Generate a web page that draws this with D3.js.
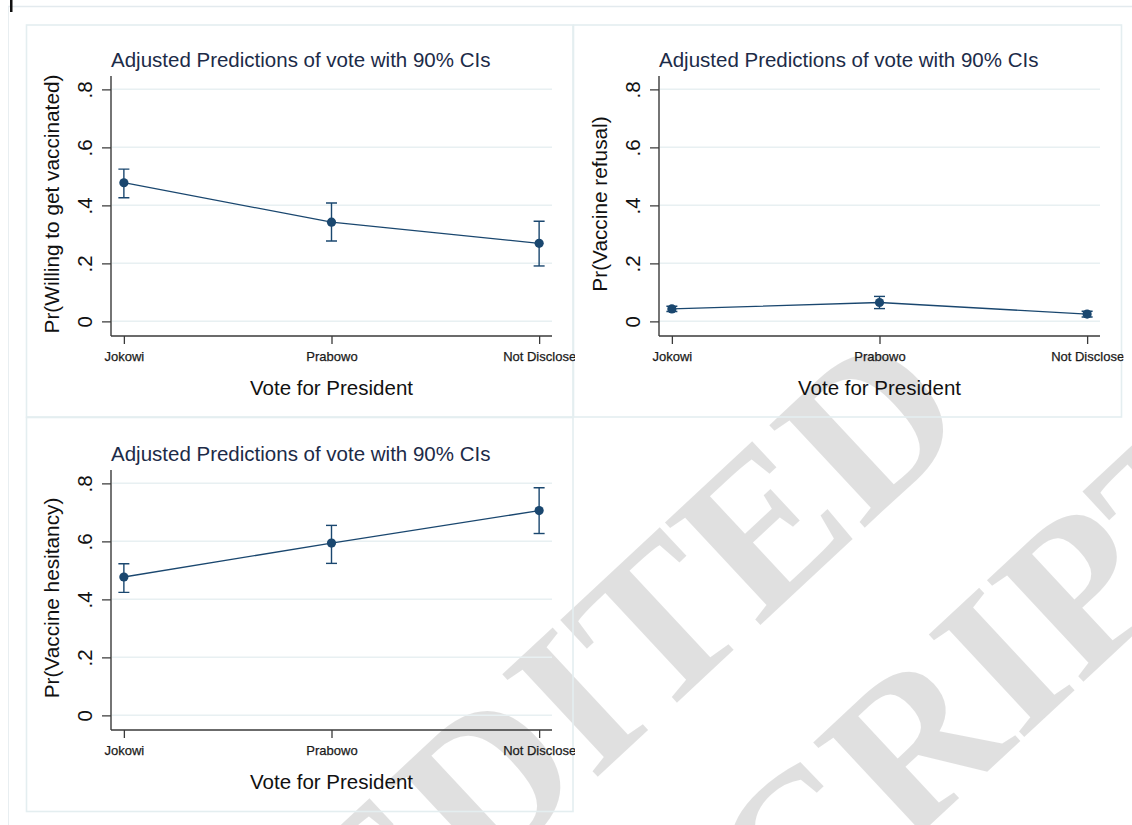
<!DOCTYPE html>
<html>
<head>
<meta charset="utf-8">
<script src="https://cdn.jsdelivr.net/npm/d3@7"></script>
<style>
  html, body { margin: 0; padding: 0; background: #fff; }
  svg { display: block; font-family: "Liberation Sans", Arial, sans-serif; }
</style>
</head>
<body>
<div id="chart"></div>
<script>
// categories on the x axis
const categories = ['Jokowi', 'Prabowo', 'Not Disclose'];

// predicted probabilities and 90% CI bounds
const willingEst = [0.478, 0.342, 0.269];
const willingLo = [0.426, 0.277, 0.191];
const willingHi = [0.525, 0.408, 0.345];

const refusalEst = [0.043, 0.065, 0.025];
const refusalLo = [0.034, 0.044, 0.015];
const refusalHi = [0.052, 0.086, 0.035];

const hesitancyEst = [0.477, 0.594, 0.706];
const hesitancyLo = [0.424, 0.524, 0.627];
const hesitancyHi = [0.523, 0.655, 0.785];

const yTicks = [0, 0.2, 0.4, 0.6, 0.8];
const yTickLabels = ['0', '.2', '.4', '.6', '.8'];

const panelTitle = 'Adjusted Predictions of vote with 90% CIs';
const xTitle = 'Vote for President';
const yTitles = ['Pr(Willing to get vaccinated)', 'Pr(Vaccine refusal)', 'Pr(Vaccine hesitancy)'];

const W = 1132, H = 825;
const navy = '#1a476f';
const axisColor = '#3a3a3a';
const gridColor = '#e8f0f2';
const boxColor = '#e4eef0';

const svg = d3.select('#chart').append('svg')
    .attr('width', W)
    .attr('height', H);

// page frame
svg.append('line').attr('x1', 8).attr('x2', W).attr('y1', 6.5).attr('y2', 6.5)
    .attr('stroke', '#e3eaee').attr('stroke-width', 1.5);
svg.append('line').attr('x1', 8.5).attr('x2', 8.5).attr('y1', 6).attr('y2', H)
    .attr('stroke', '#e8eef1').attr('stroke-width', 1);
svg.append('rect').attr('x', 10).attr('y', 0).attr('width', 2.5).attr('height', 12)
    .attr('fill', '#111');

// watermark
const wm = svg.append('g')
    .attr('transform', 'translate(562,810) rotate(-43)')
    .style('font-family', '"Liberation Serif", "Times New Roman", serif')
    .style('font-size', '214px')
    .style('font-weight', 'bold')
    .attr('fill', '#000')
    .attr('fill-opacity', 0.12)
    .attr('text-anchor', 'middle');
wm.append('text').attr('x', 0).attr('y', 0).text('UNEDITED');
wm.append('text').attr('x', 12).attr('y', 262).text('MANUSCRIPT');

// panel boxes
const boxes = [
    { x: 26.5, y: 25, w: 546.5, h: 392 },
    { x: 573.5, y: 25, w: 548, h: 392 },
    { x: 26.5, y: 417.5, w: 546.5, h: 394 }
];
boxes.forEach((b) => {
    svg.append('rect')
        .attr('x', b.x).attr('y', b.y).attr('width', b.w).attr('height', b.h)
        .attr('fill', 'none')
        .attr('stroke', boxColor)
        .attr('stroke-width', 1.6);
});

const defs = svg.append('defs');

const panels = [
    { ax: 111, oy: 0, yTitle: yTitles[0], est: willingEst, lo: willingLo, hi: willingHi, box: boxes[0] },
    { ax: 659, oy: 0, yTitle: yTitles[1], est: refusalEst, lo: refusalLo, hi: refusalHi, box: boxes[1] },
    { ax: 111, oy: 394, yTitle: yTitles[2], est: hesitancyEst, lo: hesitancyLo, hi: hesitancyHi, box: boxes[2] }
];

panels.forEach((p, i) => {
    const clipId = 'clip-' + i;
    defs.append('clipPath').attr('id', clipId)
        .append('rect')
        .attr('x', p.box.x).attr('y', p.box.y - 20)
        .attr('width', p.box.w + 2).attr('height', p.box.h + 40);

    const g = svg.append('g').attr('clip-path', `url(#${clipId})`);
    const plotW = 441;
    const top = 76 + p.oy, bottom = 336 + p.oy;

    const x = d3.scalePoint().domain(categories).range([p.ax, p.ax + plotW]).padding(0.062);
    const y = d3.scaleLinear().domain([-0.0505, 0.846]).range([bottom, top]);

    // title
    g.append('text')
        .attr('x', p.ax).attr('y', 66.5 + p.oy)
        .style('font-size', '20.5px')
        .attr('fill', '#1c2b48')
        .text(panelTitle);

    // gridlines
    g.selectAll('.grid')
        .data(yTicks)
        .enter().append('line')
        .attr('x1', p.ax + 1).attr('x2', p.ax + plotW)
        .attr('y1', (d) => y(d)).attr('y2', (d) => y(d))
        .attr('stroke', gridColor)
        .attr('stroke-width', 1.5);

    // y axis
    const yAxis = g.append('g')
        .attr('transform', `translate(${p.ax},0)`)
        .call(d3.axisLeft(y).tickValues(yTicks).tickSize(9).tickPadding(10)
            .tickFormat((d, k) => yTickLabels[k]));
    yAxis.select('.domain').attr('d', `M0,${top}V${bottom}`)
        .attr('stroke', axisColor).attr('stroke-width', 1.4);
    yAxis.selectAll('.tick line').attr('stroke', axisColor).attr('stroke-width', 1.3);
    yAxis.selectAll('.tick text')
        .attr('x', null).attr('dy', null)
        .attr('transform', 'translate(-19,0) rotate(-90)')
        .attr('text-anchor', 'middle')
        .style('font-family', '"Liberation Sans", Arial, sans-serif')
        .style('font-size', '20.5px')
        .attr('fill', '#111');

    // x axis
    const xAxis = g.append('g')
        .attr('transform', `translate(0,${bottom})`)
        .call(d3.axisBottom(x).tickSize(8).tickPadding(7));
    xAxis.select('.domain').attr('d', `M${p.ax},0H${p.ax + plotW}`)
        .attr('stroke', axisColor).attr('stroke-width', 1.6);
    xAxis.selectAll('.tick line').attr('stroke', axisColor).attr('stroke-width', 1.3);
    xAxis.selectAll('.tick text')
        .attr('dy', null).attr('y', 25)
        .style('font-family', '"Liberation Sans", Arial, sans-serif')
        .style('font-size', '13px')
        .attr('fill', '#1a1a1a')
        .attr('stroke', '#1a1a1a').attr('stroke-width', 0.25);

    // axis titles
    g.append('text')
        .attr('x', p.ax + plotW / 2).attr('y', 395 + p.oy)
        .attr('text-anchor', 'middle')
        .style('font-size', '20.5px')
        .attr('fill', '#111')
        .text(xTitle);

    const yc = (top + bottom) / 2 - 2;
    g.append('text')
        .attr('transform', `translate(${p.ax - 52},${yc}) rotate(-90)`)
        .attr('text-anchor', 'middle')
        .style('font-size', '20.8px')
        .attr('fill', '#111')
        .text(p.yTitle);

    // data
    const rows = categories.map((c, k) => ({ c, est: p.est[k], lo: p.lo[k], hi: p.hi[k] }));

    g.append('path')
        .datum(rows)
        .attr('fill', 'none')
        .attr('stroke', navy)
        .attr('stroke-width', 1.3)
        .attr('d', d3.line().x((d) => x(d.c)).y((d) => y(d.est)));

    const ci = g.selectAll('.ci').data(rows).enter().append('g')
        .attr('stroke', navy).attr('stroke-width', 1.4).attr('fill', 'none');
    ci.append('line')
        .attr('x1', (d) => x(d.c)).attr('x2', (d) => x(d.c))
        .attr('y1', (d) => y(d.lo)).attr('y2', (d) => y(d.hi));
    ci.append('line')
        .attr('x1', (d) => x(d.c) - 5.5).attr('x2', (d) => x(d.c) + 5.5)
        .attr('y1', (d) => y(d.lo)).attr('y2', (d) => y(d.lo));
    ci.append('line')
        .attr('x1', (d) => x(d.c) - 5.5).attr('x2', (d) => x(d.c) + 5.5)
        .attr('y1', (d) => y(d.hi)).attr('y2', (d) => y(d.hi));

    g.selectAll('.pt').data(rows).enter().append('circle')
        .attr('cx', (d) => x(d.c)).attr('cy', (d) => y(d.est))
        .attr('r', 4.6)
        .attr('fill', navy);
});
</script>
</body>
</html>
